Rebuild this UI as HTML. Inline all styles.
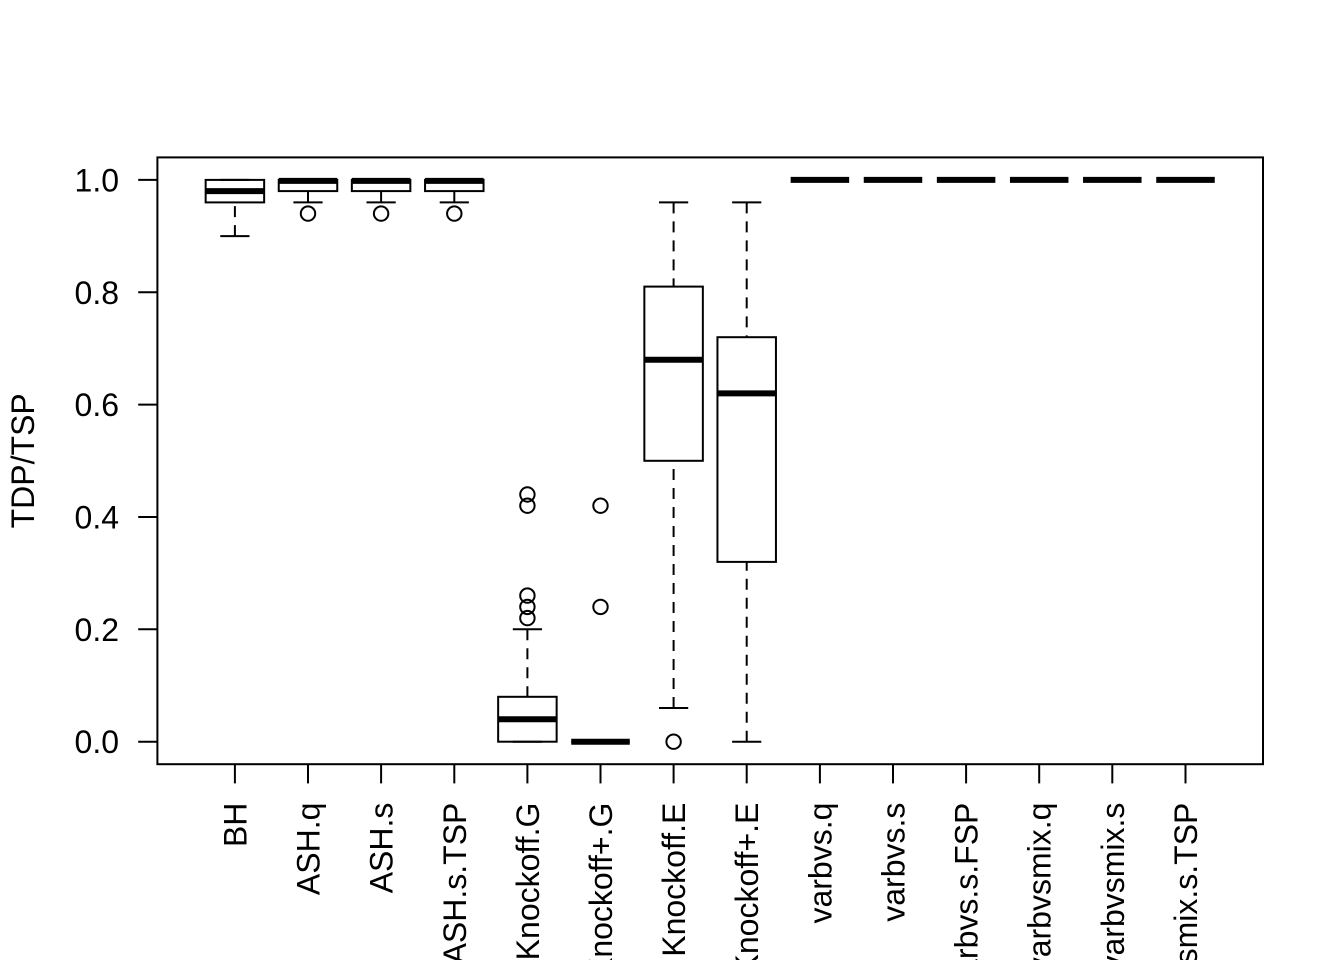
<!DOCTYPE html>
<html>
<head>
<meta charset="utf-8">
<style>
  html, body { margin:0; padding:0; background:#fff; width:1344px; height:960px; overflow:hidden; }
  svg { display:block; }
  text { font-family: "Liberation Sans", Arial, Helvetica, sans-serif; font-size:32px; fill:#000; }
</style>
</head>
<body>
<svg width="1344" height="960" viewBox="0 0 1344 960" xmlns="http://www.w3.org/2000/svg">
  <rect x="0" y="0" width="1344" height="960" fill="#fff"/>
  <g fill="none" stroke="#000" stroke-width="2">
    <rect x="157.4" y="157.4" width="1105.6" height="606.8"/>

    <line x1="138.2" y1="741.7" x2="157.4" y2="741.7"/>
    <line x1="138.2" y1="629.3" x2="157.4" y2="629.3"/>
    <line x1="138.2" y1="517.0" x2="157.4" y2="517.0"/>
    <line x1="138.2" y1="404.6" x2="157.4" y2="404.6"/>
    <line x1="138.2" y1="292.3" x2="157.4" y2="292.3"/>
    <line x1="138.2" y1="179.9" x2="157.4" y2="179.9"/>

    <line x1="234.9" y1="764.2" x2="234.9" y2="783.4"/>
    <line x1="308.0" y1="764.2" x2="308.0" y2="783.4"/>
    <line x1="381.1" y1="764.2" x2="381.1" y2="783.4"/>
    <line x1="454.3" y1="764.2" x2="454.3" y2="783.4"/>
    <line x1="527.4" y1="764.2" x2="527.4" y2="783.4"/>
    <line x1="600.5" y1="764.2" x2="600.5" y2="783.4"/>
    <line x1="673.6" y1="764.2" x2="673.6" y2="783.4"/>
    <line x1="746.7" y1="764.2" x2="746.7" y2="783.4"/>
    <line x1="819.9" y1="764.2" x2="819.9" y2="783.4"/>
    <line x1="893.0" y1="764.2" x2="893.0" y2="783.4"/>
    <line x1="966.1" y1="764.2" x2="966.1" y2="783.4"/>
    <line x1="1039.2" y1="764.2" x2="1039.2" y2="783.4"/>
    <line x1="1112.3" y1="764.2" x2="1112.3" y2="783.4"/>
    <line x1="1185.5" y1="764.2" x2="1185.5" y2="783.4"/>
  </g>

  <g fill="none" stroke="#000" stroke-width="2" stroke-dasharray="11 8">
    <line x1="234.9" y1="236.1" x2="234.9" y2="202.4"/>
    <line x1="308.0" y1="202.4" x2="308.0" y2="191.1"/>
    <line x1="381.1" y1="202.4" x2="381.1" y2="191.1"/>
    <line x1="454.3" y1="202.4" x2="454.3" y2="191.1"/>
    <line x1="527.4" y1="629.3" x2="527.4" y2="696.8"/>
    <line x1="673.6" y1="202.4" x2="673.6" y2="286.6"/>
    <line x1="673.6" y1="708.0" x2="673.6" y2="460.8"/>
    <line x1="746.7" y1="202.4" x2="746.7" y2="337.2"/>
    <line x1="746.7" y1="741.7" x2="746.7" y2="561.9"/>
  </g>

  <g fill="none" stroke="#000" stroke-width="2">
    <line x1="220.3" y1="236.1" x2="249.5" y2="236.1"/>
    <line x1="220.3" y1="179.9" x2="249.5" y2="179.9"/>
    <line x1="293.4" y1="202.4" x2="322.6" y2="202.4"/>
    <line x1="366.5" y1="202.4" x2="395.7" y2="202.4"/>
    <line x1="439.7" y1="202.4" x2="468.9" y2="202.4"/>
    <line x1="512.8" y1="629.3" x2="542.0" y2="629.3"/>
    <line x1="512.8" y1="741.7" x2="542.0" y2="741.7"/>
    <line x1="659.0" y1="202.4" x2="688.2" y2="202.4"/>
    <line x1="659.0" y1="708.0" x2="688.2" y2="708.0"/>
    <line x1="732.1" y1="202.4" x2="761.3" y2="202.4"/>
    <line x1="732.1" y1="741.7" x2="761.3" y2="741.7"/>

    <rect x="205.65" y="179.9" width="58.5" height="22.5"/>
    <rect x="278.75" y="179.9" width="58.5" height="11.2"/>
    <rect x="351.85" y="179.9" width="58.5" height="11.2"/>
    <rect x="425.05" y="179.9" width="58.5" height="11.2"/>
    <rect x="498.15" y="696.8" width="58.5" height="44.9"/>
    <line x1="571.25" y1="741.7" x2="629.75" y2="741.7"/>
    <rect x="644.35" y="286.6" width="58.5" height="174.2"/>
    <rect x="717.45" y="337.2" width="58.5" height="224.7"/>

    <circle cx="308.0" cy="213.6" r="7.2"/>
    <circle cx="381.1" cy="213.6" r="7.2"/>
    <circle cx="454.3" cy="213.6" r="7.2"/>
    <circle cx="527.4" cy="494.5" r="7.2"/>
    <circle cx="527.4" cy="505.7" r="7.2"/>
    <circle cx="527.4" cy="595.6" r="7.2"/>
    <circle cx="527.4" cy="606.9" r="7.2"/>
    <circle cx="527.4" cy="618.1" r="7.2"/>
    <circle cx="600.5" cy="505.7" r="7.2"/>
    <circle cx="600.5" cy="606.9" r="7.2"/>
    <circle cx="673.6" cy="741.7" r="7.2"/>
  </g>

  <g fill="none" stroke="#000" stroke-width="6" stroke-linecap="butt">
    <line x1="205.65" y1="191.1" x2="264.15" y2="191.1"/>
    <line x1="278.75" y1="180.9" x2="337.25" y2="180.9"/>
    <line x1="351.85" y1="180.9" x2="410.35" y2="180.9"/>
    <line x1="425.05" y1="180.9" x2="483.55" y2="180.9"/>
    <line x1="498.15" y1="719.2" x2="556.65" y2="719.2"/>
    <line x1="571.25" y1="741.7" x2="629.75" y2="741.7"/>
    <line x1="644.35" y1="359.7" x2="702.85" y2="359.7"/>
    <line x1="717.45" y1="393.4" x2="775.95" y2="393.4"/>
    <line x1="790.65" y1="179.9" x2="849.15" y2="179.9"/>
    <line x1="863.75" y1="179.9" x2="922.25" y2="179.9"/>
    <line x1="936.85" y1="179.9" x2="995.35" y2="179.9"/>
    <line x1="1009.95" y1="179.9" x2="1068.45" y2="179.9"/>
    <line x1="1083.05" y1="179.9" x2="1141.55" y2="179.9"/>
    <line x1="1156.25" y1="179.9" x2="1214.75" y2="179.9"/>
  </g>

  <g text-anchor="end">
    <text x="119" y="753.2">0.0</text>
    <text x="119" y="640.8">0.2</text>
    <text x="119" y="528.5">0.4</text>
    <text x="119" y="416.1">0.6</text>
    <text x="119" y="303.8">0.8</text>
    <text x="119" y="191.4">1.0</text>
  </g>

  <text transform="translate(34,460.8) rotate(-90)" text-anchor="middle">TDP/TSP</text>

  <g text-anchor="end">
    <text transform="translate(246.4,802.6) rotate(-90)">BH</text>
    <text transform="translate(319.5,802.6) rotate(-90)">ASH.q</text>
    <text transform="translate(392.6,802.6) rotate(-90)">ASH.s</text>
    <text transform="translate(465.8,802.6) rotate(-90)">ASH.s.TSP</text>
    <text transform="translate(538.9,802.6) rotate(-90)">Knockoff.G</text>
    <text transform="translate(612.0,802.6) rotate(-90)">Knockoff+.G</text>
    <text transform="translate(685.1,802.6) rotate(-90)">Knockoff.E</text>
    <text transform="translate(758.2,802.6) rotate(-90)">Knockoff+.E</text>
    <text transform="translate(831.4,802.6) rotate(-90)">varbvs.q</text>
    <text transform="translate(904.5,802.6) rotate(-90)">varbvs.s</text>
    <text transform="translate(977.6,802.6) rotate(-90)">varbvs.s.FSP</text>
    <text transform="translate(1050.7,802.6) rotate(-90)">varbvsmix.q</text>
    <text transform="translate(1123.8,802.6) rotate(-90)">varbvsmix.s</text>
    <text transform="translate(1197.0,802.6) rotate(-90)">varbvsmix.s.TSP</text>
  </g>
</svg>
</body>
</html>
